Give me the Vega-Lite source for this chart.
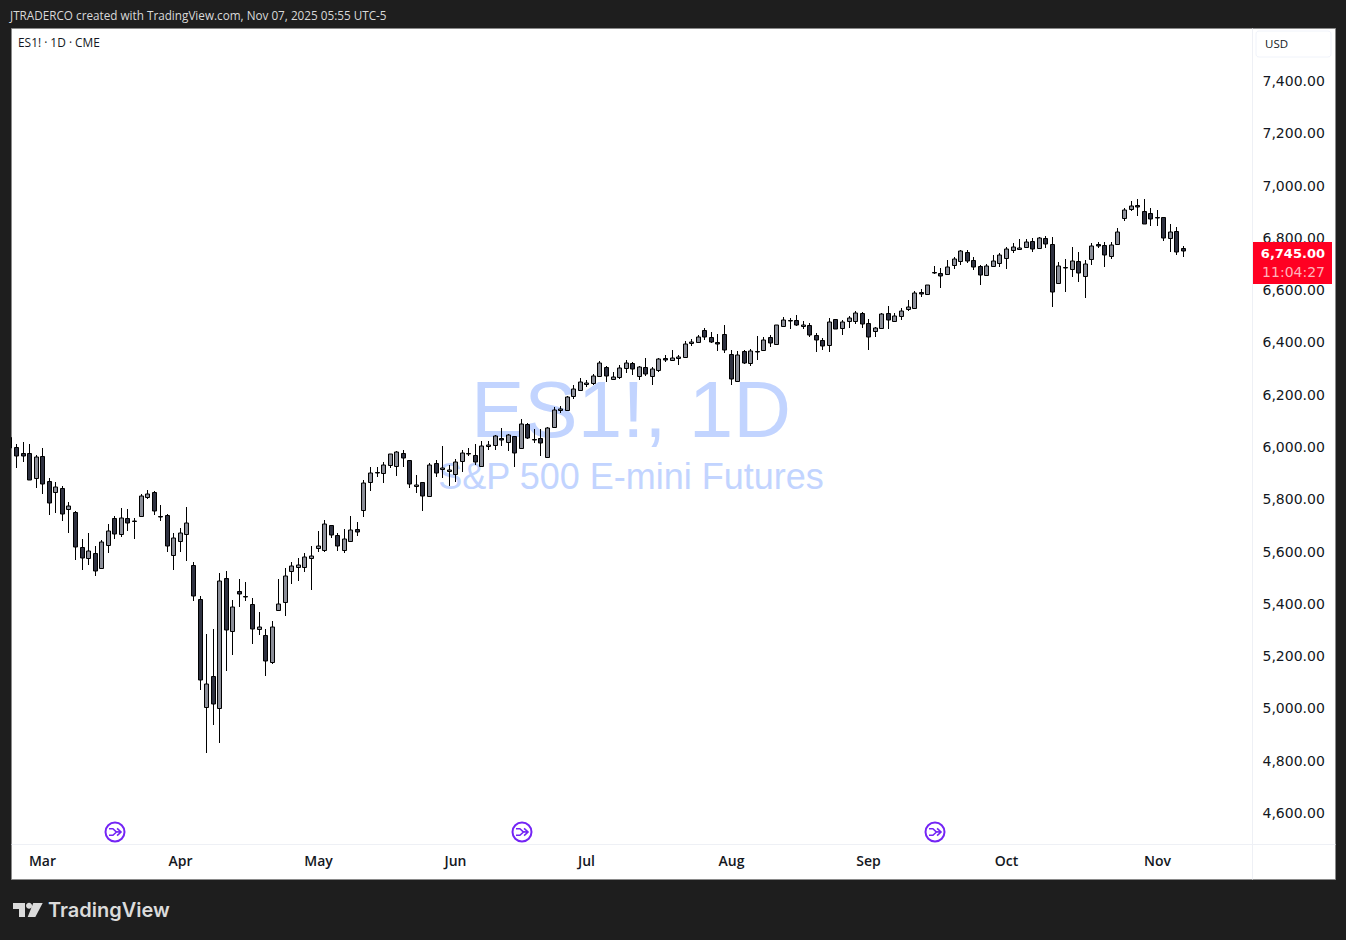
{
"$schema":"https://vega.github.io/schema/vega-lite/v6.json",
"autosize":{"type":"none"},
"padding":{"left":11,"top":28,"right":11,"bottom":61},
"width":1324,"height":851,
"background":"#1e1e1e",
"config":{"view":{"fill":"#ffffff","stroke":"#8a8a8a"}},
"datasets":{
"note":[{}],
"candles":[
{"bar":0,"date":"2025-02-24","open":6033,"high":6061,"low":5991,"close":5991,"dir":"down"},
{"bar":1,"date":"2025-02-25","open":5998,"high":6008,"low":5917,"close":5961,"dir":"down"},
{"bar":2,"date":"2025-02-26","open":5972,"high":6014,"low":5940,"close":5963,"dir":"down"},
{"bar":3,"date":"2025-02-27","open":5972,"high":6008,"low":5869,"close":5869,"dir":"down"},
{"bar":4,"date":"2025-02-28","open":5876,"high":5966,"low":5841,"close":5957,"dir":"up"},
{"bar":5,"date":"2025-03-03","open":5961,"high":5991,"low":5818,"close":5853,"dir":"down"},
{"bar":6,"date":"2025-03-04","open":5865,"high":5876,"low":5737,"close":5781,"dir":"down"},
{"bar":7,"date":"2025-03-05","open":5823,"high":5862,"low":5745,"close":5842,"dir":"up"},
{"bar":8,"date":"2025-03-06","open":5838,"high":5847,"low":5714,"close":5739,"dir":"down"},
{"bar":9,"date":"2025-03-07","open":5758,"high":5785,"low":5669,"close":5769,"dir":"up"},
{"bar":10,"date":"2025-03-10","open":5746,"high":5750,"low":5565,"close":5612,"dir":"down"},
{"bar":11,"date":"2025-03-11","open":5612,"high":5643,"low":5527,"close":5570,"dir":"down"},
{"bar":12,"date":"2025-03-12","open":5570,"high":5666,"low":5546,"close":5597,"dir":"up"},
{"bar":13,"date":"2025-03-13","open":5589,"high":5618,"low":5504,"close":5521,"dir":"down"},
{"bar":14,"date":"2025-03-14","open":5532,"high":5639,"low":5532,"close":5632,"dir":"up"},
{"bar":15,"date":"2025-03-17","open":5620,"high":5700,"low":5592,"close":5674,"dir":"up"},
{"bar":16,"date":"2025-03-18","open":5723,"high":5731,"low":5646,"close":5662,"dir":"down"},
{"bar":17,"date":"2025-03-19","open":5662,"high":5762,"low":5653,"close":5723,"dir":"up"},
{"bar":18,"date":"2025-03-20","open":5723,"high":5758,"low":5676,"close":5704,"dir":"down"},
{"bar":19,"date":"2025-03-21","open":5712,"high":5723,"low":5646,"close":5713,"dir":"up"},
{"bar":20,"date":"2025-03-24","open":5731,"high":5818,"low":5731,"close":5808,"dir":"up"},
{"bar":21,"date":"2025-03-25","open":5804,"high":5830,"low":5796,"close":5818,"dir":"up"},
{"bar":22,"date":"2025-03-26","open":5823,"high":5827,"low":5737,"close":5750,"dir":"down"},
{"bar":23,"date":"2025-03-27","open":5731,"high":5773,"low":5714,"close":5730,"dir":"down"},
{"bar":24,"date":"2025-03-28","open":5735,"high":5739,"low":5596,"close":5616,"dir":"down"},
{"bar":25,"date":"2025-03-31","open":5582,"high":5666,"low":5527,"close":5647,"dir":"up"},
{"bar":26,"date":"2025-04-01","open":5635,"high":5685,"low":5596,"close":5666,"dir":"up"},
{"bar":27,"date":"2025-04-02","open":5662,"high":5765,"low":5561,"close":5704,"dir":"up"},
{"bar":28,"date":"2025-04-03","open":5544,"high":5555,"low":5408,"close":5425,"dir":"down"},
{"bar":29,"date":"2025-04-04","open":5414,"high":5425,"low":5068,"close":5104,"dir":"down"},
{"bar":30,"date":"2025-04-07","open":5000,"high":5280,"low":4827,"close":5088,"dir":"up"},
{"bar":31,"date":"2025-04-08","open":5119,"high":5299,"low":4934,"close":5012,"dir":"down"},
{"bar":32,"date":"2025-04-09","open":4997,"high":5513,"low":4865,"close":5482,"dir":"up"},
{"bar":33,"date":"2025-04-10","open":5494,"high":5521,"low":5141,"close":5295,"dir":"down"},
{"bar":34,"date":"2025-04-11","open":5291,"high":5410,"low":5202,"close":5383,"dir":"up"},
{"bar":35,"date":"2025-04-14","open":5444,"high":5490,"low":5385,"close":5433,"dir":"down"},
{"bar":36,"date":"2025-04-15","open":5425,"high":5479,"low":5408,"close":5424,"dir":"down"},
{"bar":37,"date":"2025-04-16","open":5394,"high":5417,"low":5244,"close":5299,"dir":"down"},
{"bar":38,"date":"2025-04-17","open":5299,"high":5364,"low":5278,"close":5306,"dir":"up"},
{"bar":39,"date":"2025-04-21","open":5276,"high":5299,"low":5122,"close":5176,"dir":"down"},
{"bar":40,"date":"2025-04-22","open":5173,"high":5329,"low":5167,"close":5306,"dir":"up"},
{"bar":41,"date":"2025-04-23","open":5371,"high":5490,"low":5371,"close":5394,"dir":"up"},
{"bar":42,"date":"2025-04-24","open":5402,"high":5532,"low":5351,"close":5502,"dir":"up"},
{"bar":43,"date":"2025-04-25","open":5521,"high":5555,"low":5473,"close":5540,"dir":"up"},
{"bar":44,"date":"2025-04-28","open":5536,"high":5570,"low":5485,"close":5544,"dir":"up"},
{"bar":45,"date":"2025-04-29","open":5536,"high":5590,"low":5517,"close":5574,"dir":"up"},
{"bar":46,"date":"2025-04-30","open":5570,"high":5618,"low":5449,"close":5578,"dir":"up"},
{"bar":47,"date":"2025-05-01","open":5609,"high":5675,"low":5596,"close":5616,"dir":"up"},
{"bar":48,"date":"2025-05-02","open":5601,"high":5716,"low":5596,"close":5700,"dir":"up"},
{"bar":49,"date":"2025-05-05","open":5697,"high":5697,"low":5649,"close":5661,"dir":"down"},
{"bar":50,"date":"2025-05-06","open":5658,"high":5666,"low":5600,"close":5616,"dir":"down"},
{"bar":51,"date":"2025-05-07","open":5601,"high":5681,"low":5592,"close":5643,"dir":"up"},
{"bar":52,"date":"2025-05-08","open":5635,"high":5731,"low":5632,"close":5677,"dir":"up"},
{"bar":53,"date":"2025-05-09","open":5681,"high":5708,"low":5657,"close":5670,"dir":"down"},
{"bar":54,"date":"2025-05-12","open":5754,"high":5869,"low":5730,"close":5857,"dir":"up"},
{"bar":55,"date":"2025-05-13","open":5861,"high":5918,"low":5829,"close":5895,"dir":"up"},
{"bar":56,"date":"2025-05-14","open":5899,"high":5918,"low":5883,"close":5895,"dir":"down"},
{"bar":57,"date":"2025-05-15","open":5895,"high":5938,"low":5860,"close":5926,"dir":"up"},
{"bar":58,"date":"2025-05-16","open":5926,"high":5968,"low":5917,"close":5968,"dir":"up"},
{"bar":59,"date":"2025-05-19","open":5922,"high":5980,"low":5887,"close":5976,"dir":"up"},
{"bar":60,"date":"2025-05-20","open":5972,"high":5983,"low":5921,"close":5953,"dir":"down"},
{"bar":61,"date":"2025-05-21","open":5945,"high":5946,"low":5841,"close":5853,"dir":"down"},
{"bar":62,"date":"2025-05-22","open":5848,"high":5888,"low":5822,"close":5850,"dir":"up"},
{"bar":63,"date":"2025-05-23","open":5861,"high":5864,"low":5753,"close":5808,"dir":"down"},
{"bar":64,"date":"2025-05-27","open":5810,"high":5934,"low":5808,"close":5926,"dir":"up"},
{"bar":65,"date":"2025-05-28","open":5934,"high":5945,"low":5883,"close":5895,"dir":"down"},
{"bar":66,"date":"2025-05-29","open":5913,"high":5999,"low":5879,"close":5915,"dir":"up"},
{"bar":67,"date":"2025-05-30","open":5906,"high":5926,"low":5848,"close":5907,"dir":"up"},
{"bar":68,"date":"2025-06-02","open":5892,"high":5949,"low":5864,"close":5938,"dir":"up"},
{"bar":69,"date":"2025-06-03","open":5941,"high":5983,"low":5902,"close":5972,"dir":"up"},
{"bar":70,"date":"2025-06-04","open":5972,"high":5991,"low":5961,"close":5971,"dir":"down"},
{"bar":71,"date":"2025-06-05","open":5964,"high":6006,"low":5926,"close":5938,"dir":"down"},
{"bar":72,"date":"2025-06-06","open":5922,"high":6018,"low":5921,"close":5999,"dir":"up"},
{"bar":73,"date":"2025-06-09","open":6001,"high":6018,"low":5986,"close":6003,"dir":"up"},
{"bar":74,"date":"2025-06-10","open":6003,"high":6042,"low":5986,"close":6037,"dir":"up"},
{"bar":75,"date":"2025-06-11","open":6029,"high":6068,"low":6001,"close":6022,"dir":"down"},
{"bar":76,"date":"2025-06-12","open":6014,"high":6045,"low":5982,"close":6041,"dir":"up"},
{"bar":77,"date":"2025-06-13","open":6037,"high":6037,"low":5921,"close":5972,"dir":"down"},
{"bar":78,"date":"2025-06-16","open":5991,"high":6102,"low":5991,"close":6083,"dir":"up"},
{"bar":79,"date":"2025-06-17","open":6083,"high":6087,"low":6026,"close":6029,"dir":"down"},
{"bar":80,"date":"2025-06-18","open":6026,"high":6064,"low":6010,"close":6024,"dir":"down"},
{"bar":81,"date":"2025-06-20","open":6029,"high":6064,"low":5963,"close":6010,"dir":"down"},
{"bar":82,"date":"2025-06-23","open":5957,"high":6071,"low":5953,"close":6068,"dir":"up"},
{"bar":83,"date":"2025-06-24","open":6071,"high":6148,"low":6071,"close":6136,"dir":"up"},
{"bar":84,"date":"2025-06-25","open":6139,"high":6152,"low":6125,"close":6140,"dir":"up"},
{"bar":85,"date":"2025-06-26","open":6136,"high":6190,"low":6136,"close":6186,"dir":"up"},
{"bar":86,"date":"2025-06-27","open":6190,"high":6232,"low":6179,"close":6217,"dir":"up"},
{"bar":87,"date":"2025-06-30","open":6213,"high":6260,"low":6213,"close":6244,"dir":"up"},
{"bar":88,"date":"2025-07-01","open":6238,"high":6251,"low":6224,"close":6240,"dir":"up"},
{"bar":89,"date":"2025-07-02","open":6240,"high":6274,"low":6232,"close":6267,"dir":"up"},
{"bar":90,"date":"2025-07-03","open":6267,"high":6325,"low":6267,"close":6316,"dir":"up"},
{"bar":91,"date":"2025-07-07","open":6301,"high":6305,"low":6244,"close":6267,"dir":"down"},
{"bar":92,"date":"2025-07-08","open":6255,"high":6282,"low":6251,"close":6263,"dir":"up"},
{"bar":93,"date":"2025-07-09","open":6263,"high":6309,"low":6255,"close":6297,"dir":"up"},
{"bar":94,"date":"2025-07-10","open":6297,"high":6328,"low":6281,"close":6316,"dir":"up"},
{"bar":95,"date":"2025-07-11","open":6316,"high":6320,"low":6270,"close":6293,"dir":"down"},
{"bar":96,"date":"2025-07-14","open":6267,"high":6305,"low":6254,"close":6301,"dir":"up"},
{"bar":97,"date":"2025-07-15","open":6301,"high":6335,"low":6267,"close":6274,"dir":"down"},
{"bar":98,"date":"2025-07-16","open":6267,"high":6301,"low":6235,"close":6293,"dir":"up"},
{"bar":99,"date":"2025-07-17","open":6289,"high":6335,"low":6282,"close":6332,"dir":"up"},
{"bar":100,"date":"2025-07-18","open":6335,"high":6347,"low":6320,"close":6328,"dir":"down"},
{"bar":101,"date":"2025-07-21","open":6328,"high":6366,"low":6324,"close":6335,"dir":"up"},
{"bar":102,"date":"2025-07-22","open":6338,"high":6347,"low":6311,"close":6339,"dir":"up"},
{"bar":103,"date":"2025-07-23","open":6339,"high":6400,"low":6339,"close":6389,"dir":"up"},
{"bar":104,"date":"2025-07-24","open":6395,"high":6408,"low":6384,"close":6397,"dir":"up"},
{"bar":105,"date":"2025-07-25","open":6397,"high":6423,"low":6397,"close":6416,"dir":"up"},
{"bar":106,"date":"2025-07-28","open":6442,"high":6450,"low":6404,"close":6416,"dir":"down"},
{"bar":107,"date":"2025-07-29","open":6416,"high":6435,"low":6393,"close":6397,"dir":"down"},
{"bar":108,"date":"2025-07-30","open":6397,"high":6427,"low":6362,"close":6389,"dir":"down"},
{"bar":109,"date":"2025-07-31","open":6427,"high":6462,"low":6354,"close":6366,"dir":"down"},
{"bar":110,"date":"2025-08-01","open":6351,"high":6366,"low":6235,"close":6255,"dir":"down"},
{"bar":111,"date":"2025-08-04","open":6247,"high":6362,"low":6247,"close":6347,"dir":"up"},
{"bar":112,"date":"2025-08-05","open":6362,"high":6366,"low":6312,"close":6316,"dir":"down"},
{"bar":113,"date":"2025-08-06","open":6316,"high":6370,"low":6307,"close":6362,"dir":"up"},
{"bar":114,"date":"2025-08-07","open":6362,"high":6421,"low":6329,"close":6358,"dir":"down"},
{"bar":115,"date":"2025-08-08","open":6366,"high":6416,"low":6366,"close":6404,"dir":"up"},
{"bar":116,"date":"2025-08-11","open":6416,"high":6423,"low":6380,"close":6393,"dir":"down"},
{"bar":117,"date":"2025-08-12","open":6389,"high":6463,"low":6385,"close":6462,"dir":"up"},
{"bar":118,"date":"2025-08-13","open":6458,"high":6492,"low":6458,"close":6481,"dir":"up"},
{"bar":119,"date":"2025-08-14","open":6481,"high":6488,"low":6449,"close":6477,"dir":"down"},
{"bar":120,"date":"2025-08-15","open":6481,"high":6501,"low":6458,"close":6462,"dir":"down"},
{"bar":121,"date":"2025-08-18","open":6460,"high":6477,"low":6449,"close":6462,"dir":"up"},
{"bar":122,"date":"2025-08-19","open":6462,"high":6469,"low":6416,"close":6423,"dir":"down"},
{"bar":123,"date":"2025-08-20","open":6423,"high":6431,"low":6358,"close":6404,"dir":"down"},
{"bar":124,"date":"2025-08-21","open":6404,"high":6412,"low":6366,"close":6381,"dir":"down"},
{"bar":125,"date":"2025-08-22","open":6385,"high":6490,"low":6358,"close":6473,"dir":"up"},
{"bar":126,"date":"2025-08-25","open":6485,"high":6485,"low":6446,"close":6446,"dir":"down"},
{"bar":127,"date":"2025-08-26","open":6450,"high":6481,"low":6426,"close":6473,"dir":"up"},
{"bar":128,"date":"2025-08-27","open":6477,"high":6496,"low":6450,"close":6488,"dir":"up"},
{"bar":129,"date":"2025-08-28","open":6477,"high":6515,"low":6465,"close":6507,"dir":"up"},
{"bar":130,"date":"2025-08-29","open":6507,"high":6511,"low":6450,"close":6465,"dir":"down"},
{"bar":131,"date":"2025-09-02","open":6469,"high":6485,"low":6366,"close":6416,"dir":"down"},
{"bar":132,"date":"2025-09-03","open":6439,"high":6454,"low":6418,"close":6450,"dir":"up"},
{"bar":133,"date":"2025-09-04","open":6450,"high":6507,"low":6450,"close":6504,"dir":"up"},
{"bar":134,"date":"2025-09-05","open":6507,"high":6536,"low":6446,"close":6481,"dir":"down"},
{"bar":135,"date":"2025-09-08","open":6477,"high":6507,"low":6477,"close":6496,"dir":"up"},
{"bar":136,"date":"2025-09-09","open":6499,"high":6527,"low":6482,"close":6515,"dir":"up"},
{"bar":137,"date":"2025-09-10","open":6523,"high":6557,"low":6518,"close":6530,"dir":"up"},
{"bar":138,"date":"2025-09-11","open":6527,"high":6592,"low":6527,"close":6584,"dir":"up"},
{"bar":139,"date":"2025-09-12","open":6588,"high":6599,"low":6571,"close":6580,"dir":"down"},
{"bar":140,"date":"2025-09-15","open":6580,"high":6615,"low":6580,"close":6615,"dir":"up"},
{"bar":141,"date":"2025-09-16","open":6664,"high":6687,"low":6657,"close":6660,"dir":"down"},
{"bar":142,"date":"2025-09-17","open":6660,"high":6680,"low":6606,"close":6649,"dir":"down"},
{"bar":143,"date":"2025-09-18","open":6657,"high":6710,"low":6657,"close":6683,"dir":"up"},
{"bar":144,"date":"2025-09-19","open":6691,"high":6722,"low":6676,"close":6714,"dir":"up"},
{"bar":145,"date":"2025-09-22","open":6706,"high":6748,"low":6691,"close":6745,"dir":"up"},
{"bar":146,"date":"2025-09-23","open":6741,"high":6748,"low":6699,"close":6706,"dir":"down"},
{"bar":147,"date":"2025-09-24","open":6710,"high":6722,"low":6672,"close":6683,"dir":"down"},
{"bar":148,"date":"2025-09-25","open":6687,"high":6691,"low":6617,"close":6653,"dir":"down"},
{"bar":149,"date":"2025-09-26","open":6653,"high":6695,"low":6649,"close":6687,"dir":"up"},
{"bar":150,"date":"2025-09-29","open":6687,"high":6729,"low":6687,"close":6706,"dir":"up"},
{"bar":151,"date":"2025-09-30","open":6699,"high":6737,"low":6685,"close":6729,"dir":"up"},
{"bar":152,"date":"2025-10-01","open":6718,"high":6760,"low":6676,"close":6752,"dir":"up"},
{"bar":153,"date":"2025-10-02","open":6748,"high":6775,"low":6737,"close":6760,"dir":"up"},
{"bar":154,"date":"2025-10-03","open":6755,"high":6791,"low":6748,"close":6756,"dir":"up"},
{"bar":155,"date":"2025-10-06","open":6760,"high":6791,"low":6760,"close":6779,"dir":"up"},
{"bar":156,"date":"2025-10-07","open":6783,"high":6794,"low":6741,"close":6752,"dir":"down"},
{"bar":157,"date":"2025-10-08","open":6756,"high":6798,"low":6752,"close":6794,"dir":"up"},
{"bar":158,"date":"2025-10-09","open":6794,"high":6802,"low":6756,"close":6771,"dir":"down"},
{"bar":159,"date":"2025-10-10","open":6771,"high":6798,"low":6533,"close":6588,"dir":"down"},
{"bar":160,"date":"2025-10-13","open":6622,"high":6703,"low":6622,"close":6687,"dir":"up"},
{"bar":161,"date":"2025-10-14","open":6683,"high":6714,"low":6588,"close":6680,"dir":"down"},
{"bar":162,"date":"2025-10-15","open":6676,"high":6761,"low":6645,"close":6706,"dir":"up"},
{"bar":163,"date":"2025-10-16","open":6706,"high":6742,"low":6626,"close":6660,"dir":"down"},
{"bar":164,"date":"2025-10-17","open":6649,"high":6710,"low":6565,"close":6695,"dir":"up"},
{"bar":165,"date":"2025-10-20","open":6714,"high":6775,"low":6691,"close":6764,"dir":"up"},
{"bar":166,"date":"2025-10-21","open":6771,"high":6779,"low":6756,"close":6764,"dir":"down"},
{"bar":167,"date":"2025-10-22","open":6768,"high":6779,"low":6686,"close":6729,"dir":"down"},
{"bar":168,"date":"2025-10-23","open":6726,"high":6779,"low":6714,"close":6768,"dir":"up"},
{"bar":169,"date":"2025-10-24","open":6771,"high":6834,"low":6771,"close":6817,"dir":"up"},
{"bar":170,"date":"2025-10-27","open":6871,"high":6909,"low":6859,"close":6901,"dir":"up"},
{"bar":171,"date":"2025-10-28","open":6905,"high":6936,"low":6898,"close":6917,"dir":"up"},
{"bar":172,"date":"2025-10-29","open":6921,"high":6945,"low":6879,"close":6913,"dir":"down"},
{"bar":173,"date":"2025-10-30","open":6898,"high":6945,"low":6848,"close":6848,"dir":"down"},
{"bar":174,"date":"2025-10-31","open":6890,"high":6909,"low":6840,"close":6867,"dir":"down"},
{"bar":175,"date":"2025-11-03","open":6875,"high":6901,"low":6843,"close":6871,"dir":"down"},
{"bar":176,"date":"2025-11-04","open":6875,"high":6875,"low":6783,"close":6794,"dir":"down"},
{"bar":177,"date":"2025-11-05","open":6794,"high":6849,"low":6742,"close":6817,"dir":"up"},
{"bar":178,"date":"2025-11-06","open":6821,"high":6836,"low":6729,"close":6741,"dir":"down"},
{"bar":179,"date":"2025-11-07","open":6756,"high":6764,"low":6724,"close":6745,"dir":"down"}
],
"rolls":[
{"bar":16,"date":"2025-03-18"},
{"bar":78,"date":"2025-06-16"},
{"bar":141,"date":"2025-09-16"}
]
},
"layer":[
{"data":{"name":"note"},
 "mark":{"type":"text","text":"ES1!, 1D","font":"Liberation Sans","fontSize":80,"color":"#c2d4ff","align":"center","baseline":"middle"},
 "encoding":{
  "x":{"datum":94.8,"type":"quantitative","scale":{"domain":[0.24,202.19],"round":true,"nice":false,"zero":false,"padding":0},
   "axis":{"orient":"bottom","offset":-35,"title":null,"grid":false,"ticks":false,"domainColor":"#eef0f5","labelPadding":10,"values":[5,26,47,68,88,110,131,152,175],"labelExpr":"['Mar','Apr','May','Jun','Jul','Aug','Sep','Oct','Nov'][indexof([5,26,47,68,88,110,131,152,175],datum.value)]","labelFont":"Open Sans","labelFontSize":14,"labelFontWeight":600,"labelColor":"#131722","labelFlush":false,"labelOverlap":false}},
  "y":{"datum":6127,"type":"quantitative","scale":{"domain":[4343.7,7598.9],"round":true,"nice":false,"zero":false,"padding":0},
   "axis":{"orient":"right","offset":-83,"title":null,"grid":false,"ticks":false,"domainColor":"#eef0f5","labelPadding":10,"labelOffset":1,"values":[4600,4800,5000,5200,5400,5600,5800,6000,6200,6400,6600,6800,7000,7200,7400],"format":",.2f","labelFont":"DejaVu Sans","labelFontSize":14,"labelColor":"#131722","labelOverlap":false,"labelAlign":"left"}}
 }},
{"data":{"name":"note"},"mark":{"type":"text","text":"S&P 500 E-mini Futures","font":"Liberation Sans","fontSize":36,"color":"#c2d4ff","align":"center","baseline":"middle"},
 "encoding":{"x":{"datum":94.8,"type":"quantitative"},"y":{"datum":5876,"type":"quantitative"}}},
{"data":{"name":"candles"},
 "mark":{"type":"rule","color":"#000000","strokeWidth":1,"xOffset":0.5,"clip":true},
 "encoding":{
  "x":{"field":"bar","type":"quantitative"},
  "y":{"field":"low","type":"quantitative"},
  "y2":{"field":"high"}
 }},
{"data":{"name":"candles"},
 "mark":{"type":"bar","width":4,"stroke":"#000000","strokeWidth":1,"xOffset":0.5,"yOffset":0.5,"clip":true},
 "encoding":{
  "x":{"field":"bar","type":"quantitative"},
  "y":{"field":"open","type":"quantitative"},
  "y2":{"field":"close"},
  "fill":{"field":"dir","type":"nominal","legend":null,"scale":{"domain":["up","down"],"range":["#8b8e98","#2e3140"]}}
 }},
{"data":{"name":"rolls"},
 "mark":{"type":"point","shape":"circle","filled":true,"fill":"#ffffff","stroke":"#7424f5","strokeWidth":2,"size":361,"opacity":1,"xOffset":1},
 "encoding":{"x":{"field":"bar","type":"quantitative"},"y":{"datum":4525,"type":"quantitative"}}},
{"data":{"name":"rolls"},
 "mark":{"type":"point","shape":"M-1,-0.55 L-0.35,-0.55 L0.3,0.05 M-1,0.55 L-0.35,0.55 L0.3,-0.05 L1,0 M0.35,-0.6 L1,0 L0.35,0.6","filled":false,"stroke":"#7424f5","strokeWidth":1.6,"size":144,"opacity":1,"xOffset":1},
 "encoding":{"x":{"field":"bar","type":"quantitative"},"y":{"datum":4525,"type":"quantitative"}}},
{"data":{"name":"note"},"mark":{"type":"rect","fill":"#ff0022"},
 "encoding":{"x":{"datum":189.7,"type":"quantitative"},"x2":{"datum":201.7},"y":{"datum":6780.3,"type":"quantitative"},"y2":{"datum":6619.7}}},
{"data":{"name":"note"},"mark":{"type":"text","text":"6,745.00","font":"DejaVu Sans","fontSize":13,"fontWeight":"bold","color":"#ffffff","align":"right","baseline":"middle"},
 "encoding":{"x":{"datum":200.65,"type":"quantitative"},"y":{"datum":6734,"type":"quantitative"}}},
{"data":{"name":"note"},"mark":{"type":"text","text":"11:04:27","font":"DejaVu Sans","fontSize":14,"color":"#ffb3bb","align":"right","baseline":"middle"},
 "encoding":{"x":{"datum":200.65,"type":"quantitative"},"y":{"datum":6661,"type":"quantitative"}}},
{"data":{"name":"note"},"mark":{"type":"rect","fill":"#ffffff","stroke":"#f0f3fa","strokeWidth":1,"cornerRadius":3},
 "encoding":{"x":{"datum":190.1,"type":"quantitative"},"x2":{"datum":201.65},"y":{"datum":7587,"type":"quantitative"},"y2":{"datum":7488}}},
{"data":{"name":"note"},"mark":{"type":"text","text":"USD","font":"Open Sans","fontSize":11.5,"color":"#131722","align":"left","baseline":"middle"},
 "encoding":{"x":{"datum":191.55,"type":"quantitative"},"y":{"datum":7534,"type":"quantitative"}}},
{"data":{"name":"note"},"mark":{"type":"text","text":"ES1! · 1D · CME","font":"Open Sans","fontSize":11.9,"color":"#131722","align":"left","baseline":"middle"},
 "encoding":{"x":{"datum":1.37,"type":"quantitative"},"y":{"datum":7541,"type":"quantitative"}}},
{"data":{"name":"note"},"mark":{"type":"text","text":"JTRADERCO created with TradingView.com, Nov 07, 2025 05:55 UTC-5","font":"Open Sans","fontSize":11.72,"color":"#d9d9d9","align":"left","baseline":"middle"},
 "encoding":{"x":{"datum":0.1,"type":"quantitative"},"y":{"datum":7644,"type":"quantitative"}}},
{"data":{"name":"note"},"mark":{"type":"text","text":"TradingView","font":"Inter","fontSize":20,"fontWeight":600,"color":"#dbdbdb","align":"left","baseline":"middle"},
 "encoding":{"x":{"datum":5.95,"type":"quantitative"},"y":{"datum":4222,"type":"quantitative"}}},
{"data":{"name":"note"},"mark":{"type":"point","shape":"M-1,-0.47 L-0.2,-0.47 L-0.2,0.47 L-0.6,0.47 L-0.6,-0.07 L-1,-0.07 Z M-0.13,-0.28 A0.2,0.2 0 1,0 0.27,-0.28 A0.2,0.2 0 1,0 -0.13,-0.28 Z M0.35,-0.47 L0.98,-0.47 L0.49,0.47 L-0.02,0.47 Z","filled":true,"fill":"#dbdbdb","size":900,"opacity":1},
 "encoding":{"x":{"datum":2.83,"type":"quantitative"},"y":{"datum":4226,"type":"quantitative"}}}
]
}
